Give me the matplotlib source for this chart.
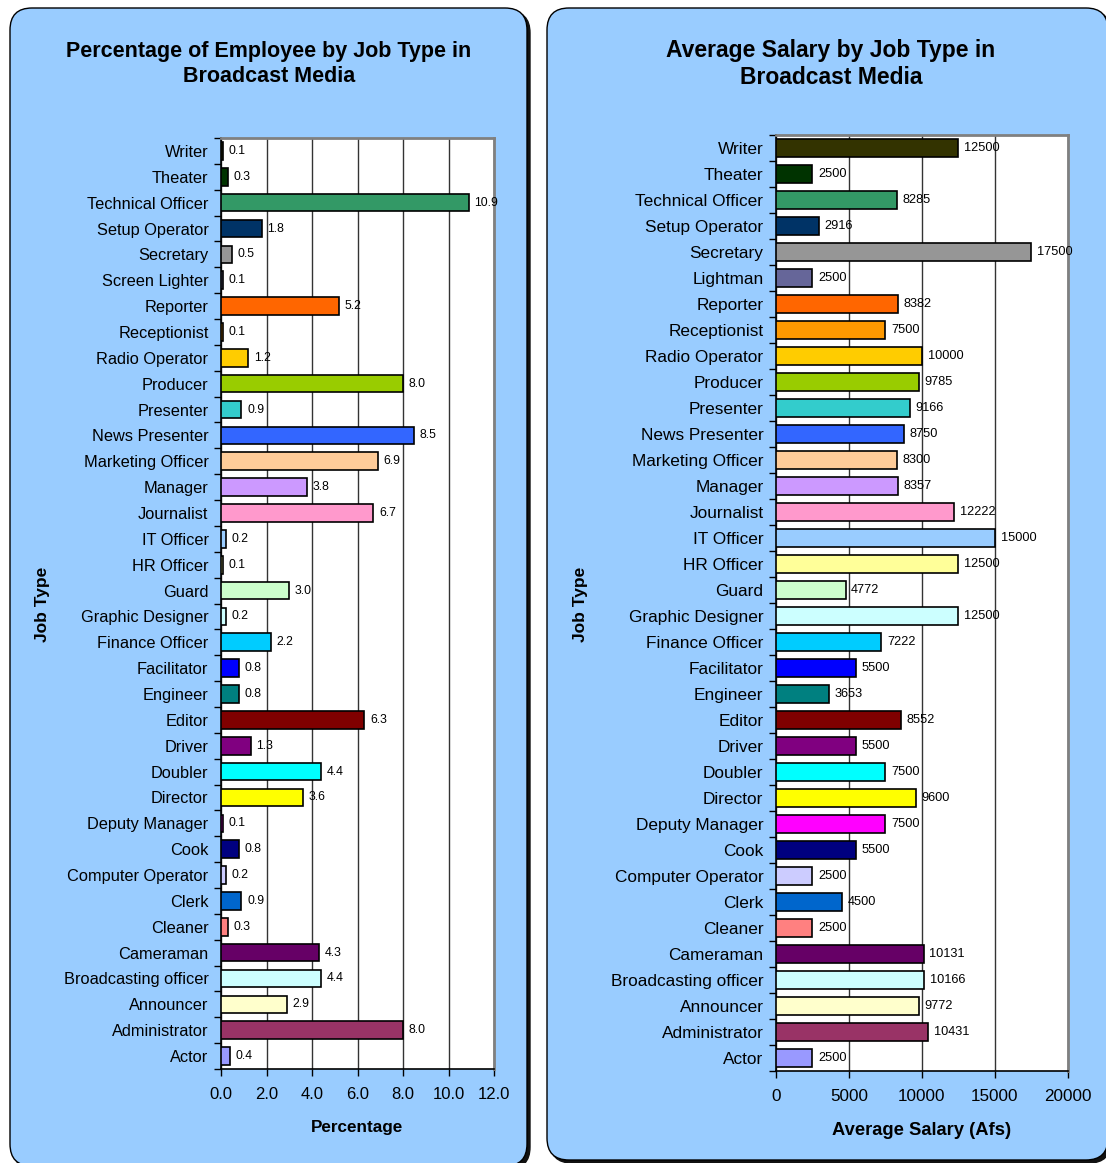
import matplotlib
matplotlib.use("Agg")
import matplotlib.pyplot as plt
from matplotlib.patches import FancyBboxPatch
from matplotlib.ticker import FixedLocator

plt.rcParams['font.family'] = ['Liberation Sans', 'DejaVu Sans']

# ---- data -------------------------------------------------------------
jobs_pct = ["Writer", "Theater", "Technical Officer", "Setup Operator", "Secretary",
            "Screen Lighter", "Reporter", "Receptionist", "Radio Operator", "Producer",
            "Presenter", "News Presenter", "Marketing Officer", "Manager", "Journalist",
            "IT Officer", "HR Officer", "Guard", "Graphic Designer", "Finance Officer",
            "Facilitator", "Engineer", "Editor", "Driver", "Doubler", "Director",
            "Deputy Manager", "Cook", "Computer Operator", "Clerk", "Cleaner",
            "Cameraman", "Broadcasting officer", "Announcer", "Administrator", "Actor"]
pct_values = [0.1, 0.3, 10.9, 1.8, 0.5, 0.1, 5.2, 0.1, 1.2, 8.0, 0.9, 8.5, 6.9, 3.8,
              6.7, 0.2, 0.1, 3.0, 0.2, 2.2, 0.8, 0.8, 6.3, 1.3, 4.4, 3.6, 0.1, 0.8,
              0.2, 0.9, 0.3, 4.3, 4.4, 2.9, 8.0, 0.4]

jobs_sal = ["Writer", "Theater", "Technical Officer", "Setup Operator", "Secretary",
            "Lightman", "Reporter", "Receptionist", "Radio Operator", "Producer",
            "Presenter", "News Presenter", "Marketing Officer", "Manager", "Journalist",
            "IT Officer", "HR Officer", "Guard", "Graphic Designer", "Finance Officer",
            "Facilitator", "Engineer", "Editor", "Driver", "Doubler", "Director",
            "Deputy Manager", "Cook", "Computer Operator", "Clerk", "Cleaner",
            "Cameraman", "Broadcasting officer", "Announcer", "Administrator", "Actor"]
sal_values = [12500, 2500, 8285, 2916, 17500, 2500, 8382, 7500, 10000, 9785, 9166,
              8750, 8300, 8357, 12222, 15000, 12500, 4772, 12500, 7222, 5500, 3653,
              8552, 5500, 7500, 9600, 7500, 5500, 2500, 4500, 2500, 10131, 10166,
              9772, 10431, 2500]

bar_colors = ["#333300", "#003300", "#339966", "#003366", "#969696", "#666699",
              "#FF6600", "#FF9900", "#FFCC00", "#99CC00", "#33CCCC", "#3366FF",
              "#FFCC99", "#CC99FF", "#FF99CC", "#99CCFF", "#FFFF99", "#CCFFCC",
              "#CCFFFF", "#00CCFF", "#0000FF", "#008080", "#800000", "#800080",
              "#00FFFF", "#FFFF00", "#FF00FF", "#000080", "#CCCCFF", "#0066CC",
              "#FF8080", "#660066", "#CCFFFF", "#FFFFCC", "#993366", "#9999FF"]

pct_ticks = [0, 2, 4, 6, 8, 10, 12]
sal_ticks = [0, 5000, 10000, 15000, 20000]

# ---- figure -----------------------------------------------------------
W, H = 1106, 1163
fig = plt.figure(figsize=(W / 100, H / 100), dpi=100)
fig.patch.set_facecolor("white")

bg = fig.add_axes([0, 0, 1, 1])
bg.set_xlim(0, W)
bg.set_ylim(H, 0)
bg.axis("off")

PANEL = "#99CCFF"


def panel(x0, y0, x1, y1):
    shadow = FancyBboxPatch((x0 + 3, y0 + 3), x1 - x0, y1 - y0,
                            boxstyle="round,pad=0,rounding_size=22",
                            fc="#111111", ec="#111111", lw=1)
    body = FancyBboxPatch((x0, y0), x1 - x0, y1 - y0,
                          boxstyle="round,pad=0,rounding_size=22",
                          fc=PANEL, ec="black", lw=1)
    bg.add_patch(shadow)
    bg.add_patch(body)


panel(10, 8, 527, 1166)
panel(547, 8, 1108, 1160)


def px_rect(x0, y0, x1, y1):
    return [x0 / W, 1 - y1 / H, (x1 - x0) / W, (y1 - y0) / H]


def draw_chart(rect, cats, vals, ticks, fmt, xlabel, title, title_x, ylabel_x,
               tick_fs, val_fs, lab_fs, title_fs, xtick_fs, title_ls):
    ax = fig.add_axes(px_rect(*rect))
    n = len(cats)
    ypos = list(range(n))
    ax.barh(ypos, vals, height=0.68, color=bar_colors, edgecolor="black",
            linewidth=1.2, zorder=3)
    ax.set_ylim(n - 0.5, -0.5)
    ax.set_xlim(ticks[0], ticks[-1])
    ax.set_facecolor("white")

    ax.set_yticks(ypos)
    ax.set_yticklabels(cats, fontsize=tick_fs)
    ax.tick_params(axis="y", which="major", length=0, pad=9)
    ax.yaxis.set_minor_locator(FixedLocator([i - 0.5 for i in range(n + 1)]))
    ax.tick_params(axis="y", which="minor", length=5, width=1, direction="out")

    ax.set_xticks(ticks)
    ax.set_xticklabels([fmt(t) for t in ticks], fontsize=xtick_fs)
    ax.tick_params(axis="x", length=5, width=1, direction="out", pad=8)

    ax.grid(axis="x", color="#333333", linewidth=1, zorder=0)
    for s in ("left", "bottom"):
        ax.spines[s].set_color("black")
        ax.spines[s].set_linewidth(1.2)
    for s in ("top", "right"):
        ax.spines[s].set_color("#808080")
        ax.spines[s].set_linewidth(2)

    for y, v in zip(ypos, vals):
        ax.annotate(fmt(v), (v, y), xytext=(4, 0), textcoords="offset points",
                    va="center", ha="left", fontsize=val_fs, zorder=4)

    ax.set_xlabel(xlabel, fontsize=lab_fs, fontweight="bold", labelpad=13)
    fig.text(ylabel_x / W, 1 - 604 / H, "Job Type", rotation=90, fontsize=12.5,
             fontweight="bold", ha="center", va="center")
    fig.text(title_x / W, 1 - 64 / H, title, fontsize=title_fs, fontweight="bold",
             ha="center", va="center", linespacing=title_ls)
    return ax


ax1 = draw_chart((221, 138, 494, 1069), jobs_pct, pct_values, pct_ticks,
                 lambda v: f"{v:.1f}", "Percentage",
                 "Percentage of Employee by Job Type in\nBroadcast Media",
                 269, 43, tick_fs=11.8, val_fs=8.8, lab_fs=12.3, title_fs=15.5,
                 xtick_fs=12, title_ls=1.3)
ax2 = draw_chart((776, 135, 1068, 1071), jobs_sal, sal_values, sal_ticks,
                 lambda v: f"{int(v)}", "Average Salary (Afs)",
                 "Average Salary by Job Type in\nBroadcast Media",
                 831, 581, tick_fs=12.4, val_fs=9.2, lab_fs=13.2, title_fs=16.5,
                 xtick_fs=12.3, title_ls=1.18)

fig.savefig("out.png", dpi=100)
